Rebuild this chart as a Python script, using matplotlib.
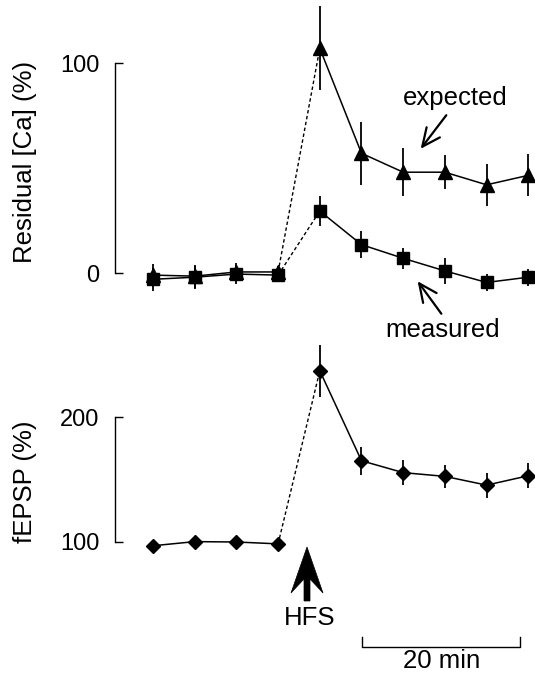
import matplotlib
matplotlib.use("Agg")
import matplotlib.pyplot as plt
from matplotlib.patches import FancyArrowPatch, Polygon
from matplotlib.lines import Line2D
import numpy as np

plt.rcParams["font.family"] = ["Liberation Sans", "DejaVu Sans"]

# sample times (min), one point every 5 min, HFS between index 3 and 4
times = [0, 5, 10, 15, 20, 25, 30, 35, 40, 45]

ca_expected = [-1, -1.5, 0.5, 0.5, 107, 57, 48, 48, 42, 46.5]
ca_expected_err = [5.5, 5.5, 4.5, 3, 20, 15, 11.5, 8, 10, 10]
ca_measured = [-3, -2, -0.5, -1, 29.5, 13.5, 7, 1, -4.5, -2]
ca_measured_err = [5.5, 5.5, 4.5, 3, 7, 6.5, 5, 6, 4, 4]

fepsp = [97, 100.3, 100, 98.5, 237, 165, 155.5, 152.5, 145.5, 153]
fepsp_err = [0, 0, 0, 0, 21, 11, 10, 9, 10, 10]

W, H = 535, 674


def fx(x):
    return x / W


def fy(y):
    return 1 - y / H


def plot_series(ax, t, y, err, marker, ms):
    t = np.asarray(t)
    y = np.asarray(y)
    ax.errorbar(t, y, yerr=err, fmt="none", ecolor="black", elinewidth=1.3,
                capsize=0, clip_on=False, zorder=2)
    ax.plot(t[:4], y[:4], color="black", lw=1.1, clip_on=False, zorder=2)
    ax.plot(t[3:5], y[3:5], color="black", lw=1.0, ls=(0, (2.5, 1.8)),
            clip_on=False, zorder=2)
    ax.plot(t[4:], y[4:], color="black", lw=1.1, clip_on=False, zorder=2)
    ax.plot(t, y, ls="none", marker=marker, ms=ms, color="black",
            clip_on=False, zorder=3)


def style_axis(ax, lo, hi):
    for side in ("top", "right", "bottom"):
        ax.spines[side].set_visible(False)
    ax.spines["left"].set_bounds(lo, hi)
    ax.spines["left"].set_linewidth(1.0)
    ax.set_yticks([lo, hi])
    ax.tick_params(axis="y", direction="in", length=6, width=1.0,
                   labelsize=17, pad=11)
    ax.set_xticks([])
    ax.patch.set_visible(False)


def label_arrow(start, end):
    fig.add_artist(FancyArrowPatch(
        (fx(start[0]), fy(start[1])), (fx(end[0]), fy(end[1])),
        transform=fig.transFigure,
        arrowstyle="->,head_length=13,head_width=6", lw=1.6, color="black",
        mutation_scale=1))


fig = plt.figure(figsize=(W / 100, H / 100), dpi=100)

# pixel -> data mapping: x=153 px at t=0, 8.34 px per min
px_per_min = 41.7 / 5
x_left = (115 - 153) / px_per_min
x_right = (535 - 153) / px_per_min

# top panel: 100 at y=63 px, 0 at y=273 px
ax1 = fig.add_axes([fx(115), fy(300), fx(420), 295 / H])
u1 = 100 / 210
ax1.set_xlim(x_left, x_right)
ax1.set_ylim(0 - 27 * u1, 100 + 58 * u1)
plot_series(ax1, times, ca_expected, ca_expected_err, "^", 9.5)
plot_series(ax1, times, ca_measured, ca_measured_err, "s", 8)
style_axis(ax1, 0, 100)

# bottom panel: 200 at y=417 px, 100 at y=542 px
ax2 = fig.add_axes([fx(115), fy(560), fx(420), 230 / H])
u2 = 100 / 125
ax2.set_xlim(x_left, x_right)
ax2.set_ylim(100 - 18 * u2, 200 + 87 * u2)
plot_series(ax2, times, fepsp, fepsp_err, "D", 7.5)
style_axis(ax2, 100, 200)

fig.text(fx(25), fy(162), "Residual [Ca] (%)", rotation=90, fontsize=18.5,
         ha="center", va="center")
fig.text(fx(25), fy(482), "fEPSP (%)", rotation=90, fontsize=18.5,
         ha="center", va="center")

# labels with arrows
fig.text(fx(455), fy(98), "expected", fontsize=18.5, ha="center", va="center")
label_arrow((448, 113), (419, 151))
fig.text(fx(443), fy(330), "measured", fontsize=18.5, ha="center", va="center")
label_arrow((443, 316), (416, 279))

# HFS arrow: thick shaft with swept-back head
hfs_pts = [(307, 547), (323, 593), (310, 579), (310, 601), (304, 601),
           (304, 579), (291, 593)]
fig.add_artist(Polygon([(fx(x), fy(y)) for x, y in hfs_pts], closed=True,
                       transform=fig.transFigure, facecolor="black",
                       edgecolor="black", lw=0.5))
fig.text(fx(310), fy(618), "HFS", fontsize=18.5, ha="center", va="center")

# 20 min scale bar
fig.add_artist(Line2D(
    [fx(362), fx(362), fx(520), fx(520)], [fy(637), fy(647), fy(647), fy(637)],
    transform=fig.transFigure, color="black", lw=1.0))
fig.text(fx(442), fy(661), "20 min", fontsize=18.5, ha="center", va="center")

fig.savefig("out.png", dpi=100)
